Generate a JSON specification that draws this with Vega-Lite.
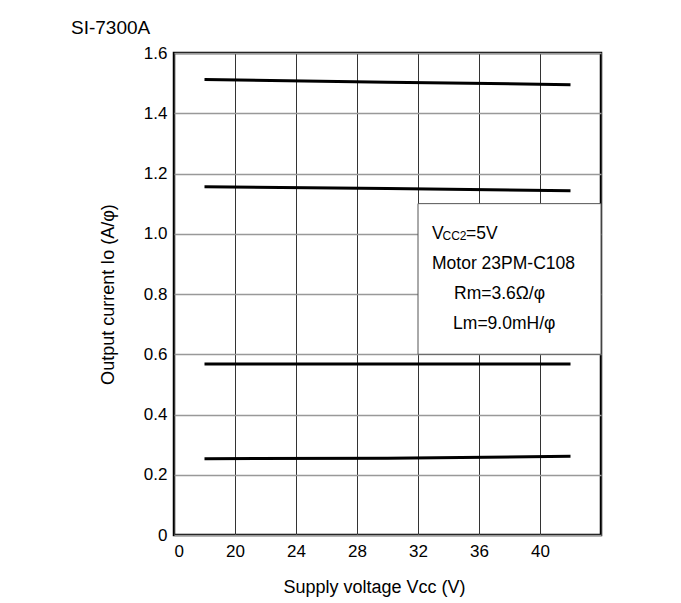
{
  "$schema": "https://vega.github.io/schema/vega-lite/v6.json",
  "width": 427,
  "height": 482,
  "autosize": {"type": "none"},
  "padding": {"left": 174, "top": 53, "right": 80, "bottom": 68},
  "background": "white",
  "title": {
    "text": "SI-7300A",
    "anchor": "start",
    "frame": "group",
    "dx": -103,
    "dy": 28,
    "offset": 19,
    "baseline": "alphabetic",
    "fontSize": 19,
    "fontWeight": "normal",
    "font": "Liberation Sans",
    "color": "black"
  },
  "config": {
    "font": "Liberation Sans",
    "view": {"stroke": "black", "strokeWidth": 2.5},
    "axis": {
      "domain": false,
      "ticks": false,
      "labelFont": "Liberation Sans",
      "titleFont": "Liberation Sans",
      "labelFontSize": 17,
      "titleFontSize": 18,
      "titleFontWeight": "normal",
      "labelColor": "black",
      "titleColor": "black",
      "gridOpacity": 1
    }
  },
  "datasets": {
    "curves": [
      {"series": "a", "vcc": 18, "io": 1.512},
      {"series": "a", "vcc": 30, "io": 1.503},
      {"series": "a", "vcc": 42, "io": 1.495},
      {"series": "b", "vcc": 18, "io": 1.156},
      {"series": "b", "vcc": 30, "io": 1.150},
      {"series": "b", "vcc": 42, "io": 1.143},
      {"series": "c", "vcc": 18, "io": 0.568},
      {"series": "c", "vcc": 30, "io": 0.568},
      {"series": "c", "vcc": 42, "io": 0.568},
      {"series": "d", "vcc": 18, "io": 0.253},
      {"series": "d", "vcc": 30, "io": 0.255},
      {"series": "d", "vcc": 42, "io": 0.261}
    ]
  },
  "layer": [
    {
      "data": {"values": [{"x1": 32, "x2": 44, "y1": 0.6, "y2": 1.1}]},
      "mark": {"type": "rect", "fill": "white", "stroke": "#555", "strokeWidth": 1},
      "encoding": {
        "x": {"field": "x1", "type": "quantitative", "scale": {"domain": [16, 44], "nice": false, "zero": false},
          "axis": {
            "values": [16, 18, 20, 22, 24, 26, 28, 30, 32, 34, 36, 38, 40, 42, 44],
            "labelExpr": "datum.value == 16 ? '0' : ((datum.value % 4 == 0 && datum.value <= 40) ? datum.label : '')",
            "labelPadding": 8,
            "gridColor": "#333",
            "gridWidth": 1,
            "title": "Supply voltage Vcc (V)",
            "titleX": 200,
            "titleY": 57,
            "titleBaseline": "alphabetic",
            "titleAnchor": null
          }
        },
        "x2": {"field": "x2"},
        "y": {"field": "y1", "type": "quantitative", "scale": {"domain": [0, 1.6], "nice": false},
          "axis": {
            "values": [0, 0.1, 0.2, 0.3, 0.4, 0.5, 0.6, 0.7, 0.8, 0.9, 1.0, 1.1, 1.2, 1.3, 1.4, 1.5, 1.6],
            "labelExpr": "datum.value == 0 ? '0' : (round(datum.value * 10) % 2 == 0 ? format(datum.value, '.1f') : '')",
            "labelPadding": 7,
            "gridColor": "#999",
            "gridWidth": 1.3,
            "title": "Output current Io (A/φ)",
            "titleX": -61,
            "titleY": 241,
            "titleAngle": -90,
            "titleAlign": "center",
            "titleBaseline": "alphabetic"
          }
        },
        "y2": {"field": "y2"}
      }
    },
    {
      "data": {"name": "curves"},
      "mark": {"type": "line", "color": "black", "strokeWidth": 3},
      "encoding": {
        "x": {"field": "vcc", "type": "quantitative"},
        "y": {"field": "io", "type": "quantitative"},
        "detail": {"field": "series"}
      }
    },
    {
      "data": {"values": [
        {"x": 32.92, "y": 1.0, "t": "V"}
      ]},
      "mark": {"type": "text", "align": "left", "baseline": "middle", "fontSize": 17.5, "color": "black"},
      "encoding": {
        "x": {"field": "x", "type": "quantitative"},
        "y": {"field": "y", "type": "quantitative"},
        "text": {"field": "t"}
      }
    },
    {
      "data": {"values": [
        {"x": 32.92, "y": 1.0, "t": "CC2"}
      ]},
      "mark": {"type": "text", "align": "left", "baseline": "middle", "fontSize": 12, "dx": 10.5, "dy": 2, "color": "black"},
      "encoding": {
        "x": {"field": "x", "type": "quantitative"},
        "y": {"field": "y", "type": "quantitative"},
        "text": {"field": "t"}
      }
    },
    {
      "data": {"values": [
        {"x": 32.92, "y": 1.0, "t": "=5V"}
      ]},
      "mark": {"type": "text", "align": "left", "baseline": "middle", "fontSize": 17.5, "dx": 34, "color": "black"},
      "encoding": {
        "x": {"field": "x", "type": "quantitative"},
        "y": {"field": "y", "type": "quantitative"},
        "text": {"field": "t"}
      }
    },
    {
      "data": {"values": [
        {"x": 32.92, "y": 0.9, "t": "Motor 23PM-C108"},
        {"x": 34.36, "y": 0.8, "t": "Rm=3.6Ω/φ"},
        {"x": 34.3, "y": 0.7, "t": "Lm=9.0mH/φ"}
      ]},
      "mark": {"type": "text", "align": "left", "baseline": "middle", "fontSize": 17.5, "color": "black"},
      "encoding": {
        "x": {"field": "x", "type": "quantitative"},
        "y": {"field": "y", "type": "quantitative"},
        "text": {"field": "t"}
      }
    }
  ]
}
